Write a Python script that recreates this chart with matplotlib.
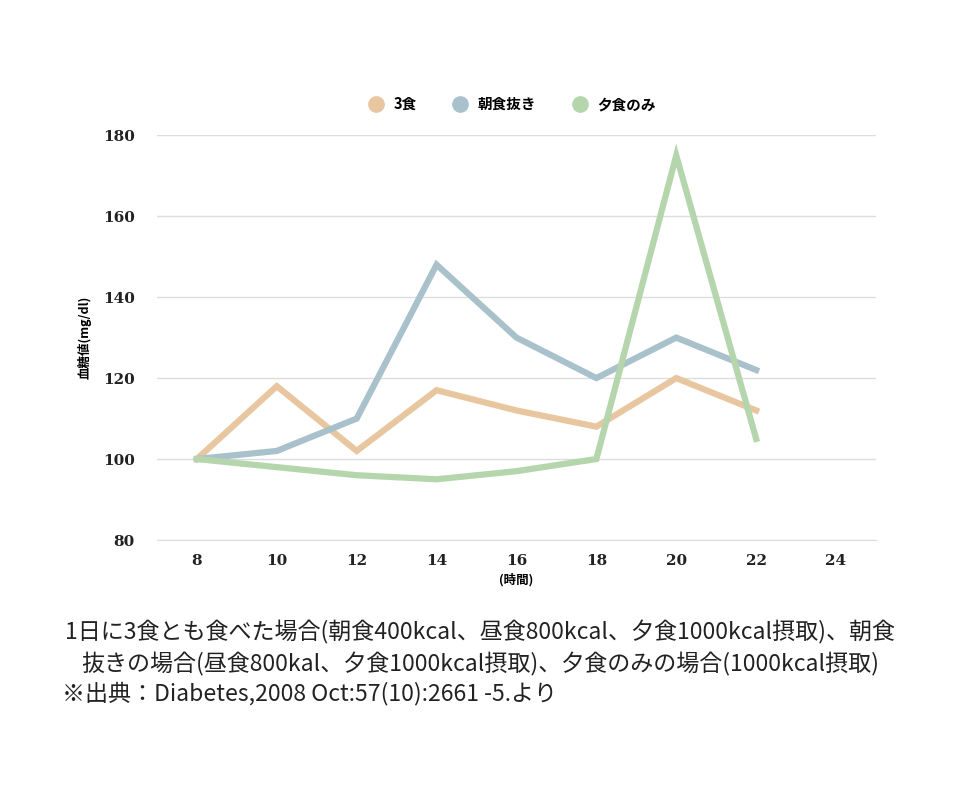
import matplotlib
matplotlib.use("Agg")
import matplotlib.pyplot as plt

plt.rcParams["font.family"] = ["Noto Sans CJK JP", "DejaVu Sans"]

hours = [8, 10, 12, 14, 16, 18, 20, 22]
three_meals = [100, 118, 102, 117, 112, 108, 120, 112]
no_breakfast = [100, 102, 110, 148, 130, 120, 130, 122]
dinner_only = [100, 98, 96, 95, 97, 100, 175, 105]
series_names = ["3食", "朝食抜き", "夕食のみ"]
colors = ["#e8c6a0", "#a9c1cb", "#b5d6ad"]
x_ticks = [8, 10, 12, 14, 16, 18, 20, 22, 24]
y_ticks = [80, 100, 120, 140, 160, 180]

fig = plt.figure(figsize=(9.6, 8), dpi=100)
ax = fig.add_axes([0.1635, 0.325, 0.749, 0.506])
for vals, name, c in zip([three_meals, no_breakfast, dinner_only], series_names, colors):
    ax.plot(hours, vals, color=c, lw=4.5, label=name, solid_joinstyle="miter")

ax.set_xlim(7, 25)
ax.set_ylim(80, 180)
ax.set_xticks(x_ticks)
ax.set_yticks(y_ticks)
for lab in ax.get_xticklabels() + ax.get_yticklabels():
    lab.set_fontweight("bold")
    lab.set_fontfamily("DejaVu Serif")
ax.tick_params(length=0, labelsize=11, colors="#222222")
ax.tick_params(axis="x", pad=10)
ax.tick_params(axis="y", pad=16)
ax.yaxis.grid(True, color="#dddddd", lw=1)
for s in ["top", "right", "left"]:
    ax.spines[s].set_visible(False)
ax.spines["bottom"].set_color("#dddddd")
ax.set_xlabel("(時間)", fontsize=9, fontweight="bold", labelpad=4)
ax.set_ylabel("血糖値(mg/dl)", fontsize=9, fontweight="bold", labelpad=8)

handles = [plt.Line2D([], [], marker="o", ls="", color=c, ms=11) for c in colors]
leg = fig.legend(handles, series_names, loc="center", bbox_to_anchor=(0.53, 0.87),
                 ncol=3, frameon=False, fontsize=10.5, handletextpad=0.2, columnspacing=2.0)
for t in leg.get_texts():
    t.set_fontweight("bold")

cap = 16.6
fig.text(0.5, 1 - 632 / 800, "1日に3食とも食べた場合(朝食400kcal、昼食800kcal、夕食1000kcal摂取)、朝食",
         ha="center", va="center", fontsize=cap, color="#222222")
fig.text(0.5, 1 - 664 / 800, "抜きの場合(昼食800kal、夕食1000kcal摂取)、夕食のみの場合(1000kcal摂取)",
         ha="center", va="center", fontsize=cap, color="#222222")
fig.text(62 / 960, 1 - 694 / 800, "※出典：Diabetes,2008 Oct:57(10):2661 -5.より",
         ha="left", va="center", fontsize=cap, color="#222222")

fig.savefig("out.png")
